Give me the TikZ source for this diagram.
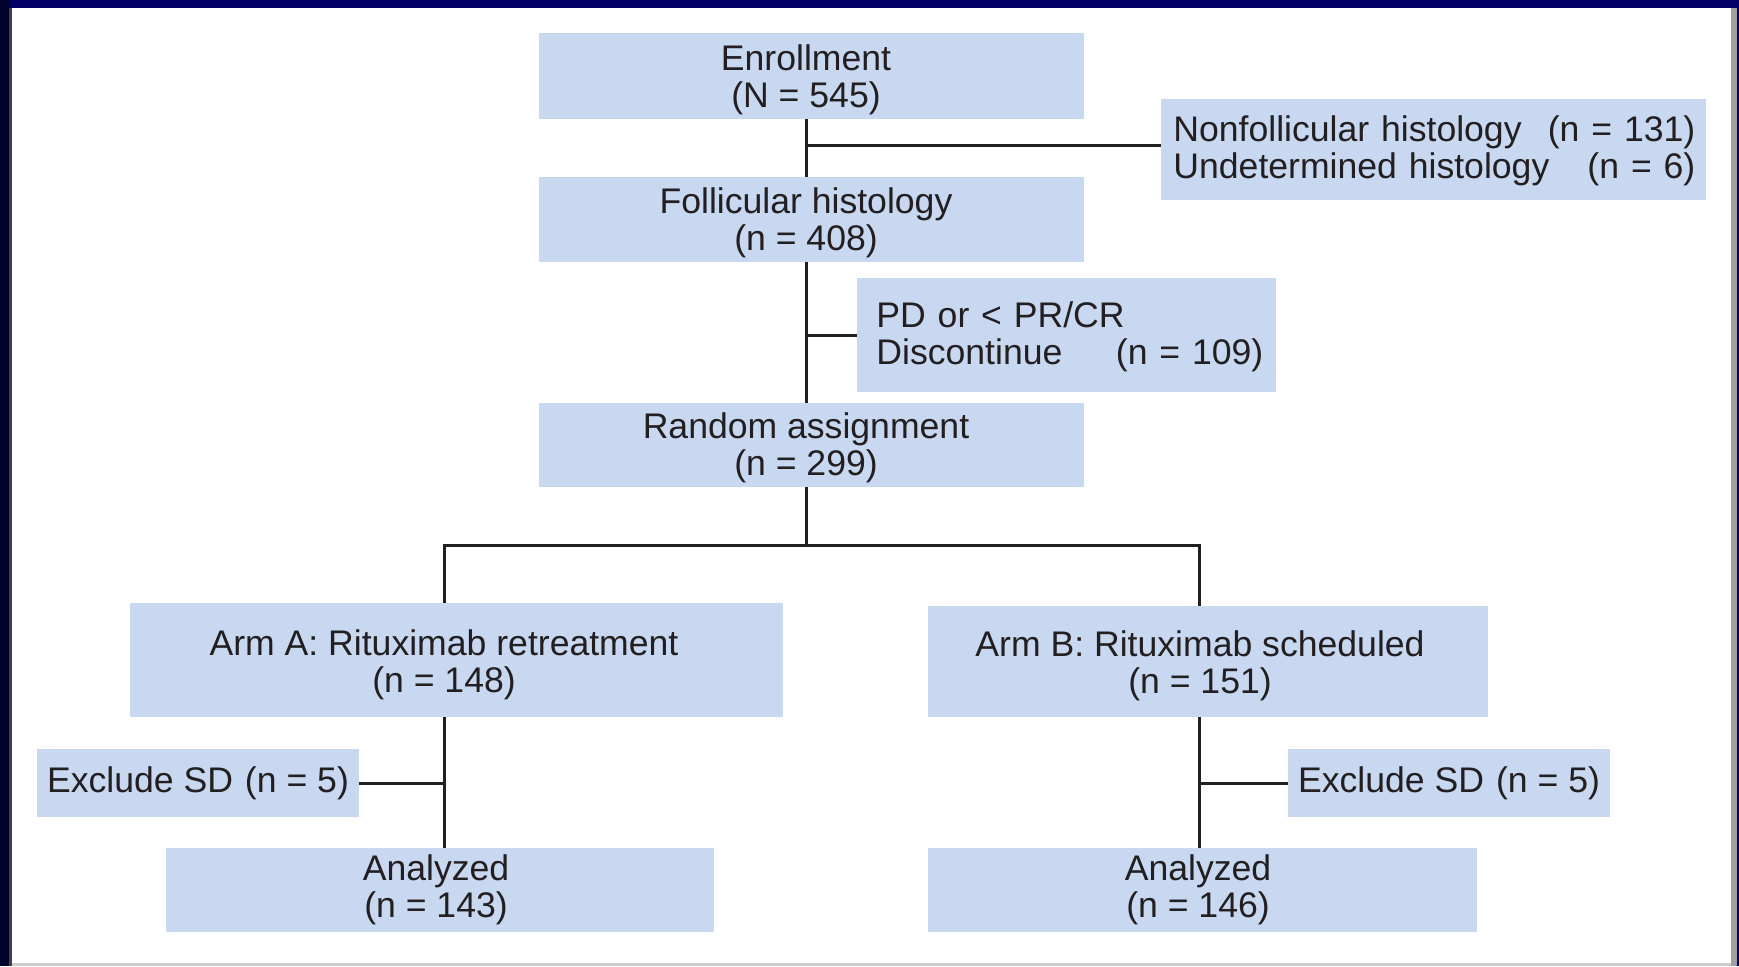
\documentclass[tikz,border=0pt]{standalone}
\usepackage{fontspec}
\setmainfont{Liberation Sans}
\usepackage{tikz}
\usetikzlibrary{fit}
\definecolor{boxblue}{HTML}{C7D8F0}
\definecolor{inkdark}{HTML}{231F20}
\definecolor{framenavy}{HTML}{000066}
\definecolor{framedeep}{HTML}{03032E}
\definecolor{framegray}{HTML}{A0A0A0}
\definecolor{edgegray}{HTML}{CCCCCC}
\tikzset{
  box/.style={fill=boxblue,inner sep=0pt},
  boxtext/.style={align=center,inner sep=0pt,text=inkdark,font=\fontsize{17.8}{18.5}\selectfont},
  sidetext/.style={boxtext,align=left,anchor=west},
  link/.style={draw=inkdark,line width=1.5pt}
}

\begin{document}
\begin{tikzpicture}[x=0.5pt,y=-0.5pt]
  \useasboundingbox (0,0) rectangle (1739,966);
  \fill[white] (0,0) rectangle (1739,966);
  \fill[framenavy] (0,0) rectangle (1739,8);
  \fill[framedeep] (0,0) rectangle (9,966);
  \fill[inkdark!85] (9,8) rectangle (12,966);
  \fill[framegray] (1731,8) rectangle (1737,966);
  \fill[framenavy] (1737,0) rectangle (1739,966);
  \fill[edgegray] (12,963) rectangle (1731,966);

  \node[box,fit={(539,33) (1084,119)}] (enroll) {};
  \node[box,fit={(1161,99) (1706,200)}] (nonfol) {};
  \node[box,fit={(539,177) (1084,262)}] (follic) {};
  \node[box,fit={(857,278) (1276,392)}] (pdbox) {};
  \node[box,fit={(539,403) (1084,487)}] (random) {};
  \node[box,fit={(130,603) (783,717)}] (armA) {};
  \node[box,fit={(928,606) (1488,717)}] (armB) {};
  \node[box,fit={(37,749) (359,817)}] (exclA) {};
  \node[box,fit={(1288,749) (1610,817)}] (exclB) {};
  \node[box,fit={(166,848) (714,932)}] (anaA) {};
  \node[box,fit={(928,848) (1477,932)}] (anaB) {};

  \coordinate (spine) at (806,0);
  \coordinate (splitA) at (444,545);
  \coordinate (splitB) at (1199,545);
  \draw[link] (enroll.south -| spine) -- (follic.north -| spine);
  \draw[link] ([yshift=2.25pt]nonfol.west -| spine) -- ([yshift=2.25pt]nonfol.west);
  \draw[link] (follic.south -| spine) -- (random.north -| spine);
  \draw[link] (pdbox.west -| spine) -- (pdbox.west);
  \draw[link] (random.south -| spine) -- (spine |- splitA);
  \draw[link] (armA.north -| splitA) -- (splitA) -- (splitB) -- (armB.north -| splitB);
  \draw[link] (armA.south -| splitA) -- (anaA.north -| splitA);
  \draw[link] (exclA.east) -- (exclA.east -| splitA);
  \draw[link] (armB.south -| splitB) -- (anaB.north -| splitB);
  \draw[link] (exclB.west) -- (exclB.west -| splitB);

  \node[boxtext] (enrollT) at (806,80) {Enrollment\\(N = 545)};
  \node[sidetext,text width=261pt] (nonfolT) at (1173,151) {Nonfollicular histology\hfill(n = 131)\\Undetermined histology\hfill(n = 6)};
  \node[boxtext] (follicT) at (806,223) {Follicular histology\\(n = 408)};
  \node[sidetext,text width=193.5pt] (pdboxT) at (876,337) {PD or < PR/CR\\Discontinue\hfill(n = 109)};
  \node[boxtext] (randomT) at (806,448) {Random assignment\\(n = 299)};
  \node[boxtext] (armAT) at (444,665) {Arm A: Rituximab retreatment\\(n = 148)};
  \node[boxtext] (armBT) at (1200,666) {Arm B: Rituximab scheduled\\(n = 151)};
  \node[boxtext] (exclAT) at (198,783) {Exclude SD\hspace{6pt}(n = 5)};
  \node[boxtext] (exclBT) at (1449,783) {Exclude SD\hspace{6pt}(n = 5)};
  \node[boxtext] (anaAT) at (436,890) {Analyzed\\(n = 143)};
  \node[boxtext] (anaBT) at (1198,890) {Analyzed\\(n = 146)};
\end{tikzpicture}
\end{document}
